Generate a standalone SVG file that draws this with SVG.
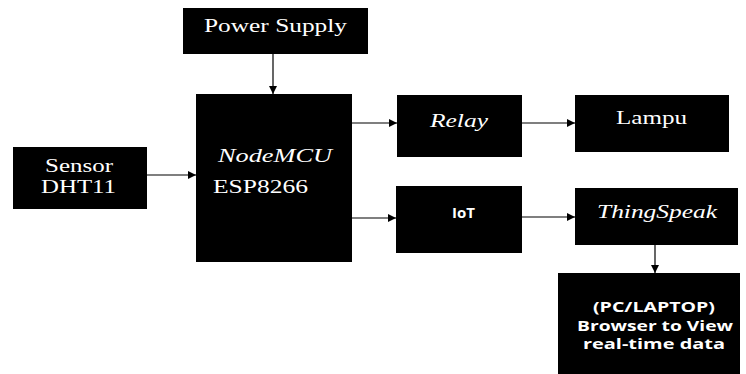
<svg xmlns="http://www.w3.org/2000/svg" width="746" height="374" viewBox="0 0 746 374">
<defs>
<marker id="ah" viewBox="0 0 10 10" refX="10" refY="5" markerWidth="9" markerHeight="8" markerUnits="userSpaceOnUse" orient="auto">
<path d="M0,0 L10,5 L0,10 Z" fill="#000"/>
</marker>
</defs>
<style>
.box{fill:#000}
.t{fill:#fff;font-family:"Liberation Serif","Times New Roman",serif;font-size:19px;font-weight:normal}
.i{font-style:italic}
.s{fill:#fff;font-family:"Open Sans","Liberation Sans",sans-serif;font-size:14px;font-weight:bold}
.c{stroke:#000;stroke-width:1.2;fill:none;marker-end:url(#ah)}
</style>
<rect width="746" height="374" fill="#fff"/>
<g id="connectors">
<line class="c" x1="273" y1="54" x2="273" y2="94"/>
<line class="c" x1="147" y1="175" x2="196" y2="175"/>
<line class="c" x1="352" y1="123" x2="397" y2="123"/>
<line class="c" x1="352" y1="218" x2="396" y2="218"/>
<line class="c" x1="522" y1="123" x2="575" y2="123"/>
<line class="c" x1="522" y1="217" x2="575" y2="217"/>
<line class="c" x1="655" y1="245" x2="655" y2="273"/>
</g>
<g id="power">
<rect class="box" x="183" y="8" width="185" height="46"/>
<text class="t" x="204" y="32" textLength="143" lengthAdjust="spacingAndGlyphs">Power Supply</text>
</g>
<g id="nodemcu">
<rect class="box" x="196" y="94" width="156" height="168"/>
<text class="t i" x="218" y="162" textLength="114" lengthAdjust="spacingAndGlyphs">NodeMCU</text>
<text class="t" x="213" y="193" textLength="95" lengthAdjust="spacingAndGlyphs">ESP8266</text>
</g>
<g id="sensor">
<rect class="box" x="13" y="147" width="134" height="62"/>
<text class="t" x="45" y="172" textLength="68" lengthAdjust="spacingAndGlyphs">Sensor</text>
<text class="t" x="41" y="193" textLength="75" lengthAdjust="spacingAndGlyphs">DHT11</text>
</g>
<g id="relay">
<rect class="box" x="397" y="95" width="125" height="62"/>
<text class="t i" x="430" y="127" textLength="58" lengthAdjust="spacingAndGlyphs">Relay</text>
</g>
<g id="lampu">
<rect class="box" x="575" y="95" width="154" height="57"/>
<text class="t" x="616" y="124" textLength="71" lengthAdjust="spacingAndGlyphs">Lampu</text>
</g>
<g id="iot">
<rect class="box" x="396" y="186" width="126" height="67"/>
<text class="s" x="452" y="218" textLength="23" lengthAdjust="spacingAndGlyphs">IoT</text>
</g>
<g id="thingspeak">
<rect class="box" x="575" y="188" width="163" height="57"/>
<text class="t i" x="597" y="218" textLength="120" lengthAdjust="spacingAndGlyphs">ThingSpeak</text>
</g>
<g id="pc">
<rect class="box" x="558" y="273" width="182" height="101"/>
<text class="s" x="593" y="312" textLength="122" lengthAdjust="spacingAndGlyphs">(PC/LAPTOP)</text>
<text class="s" x="577" y="331" textLength="156" lengthAdjust="spacingAndGlyphs">Browser to View</text>
<text class="s" x="583" y="349" textLength="142" lengthAdjust="spacingAndGlyphs">real-time data</text>
</g>
</svg>
